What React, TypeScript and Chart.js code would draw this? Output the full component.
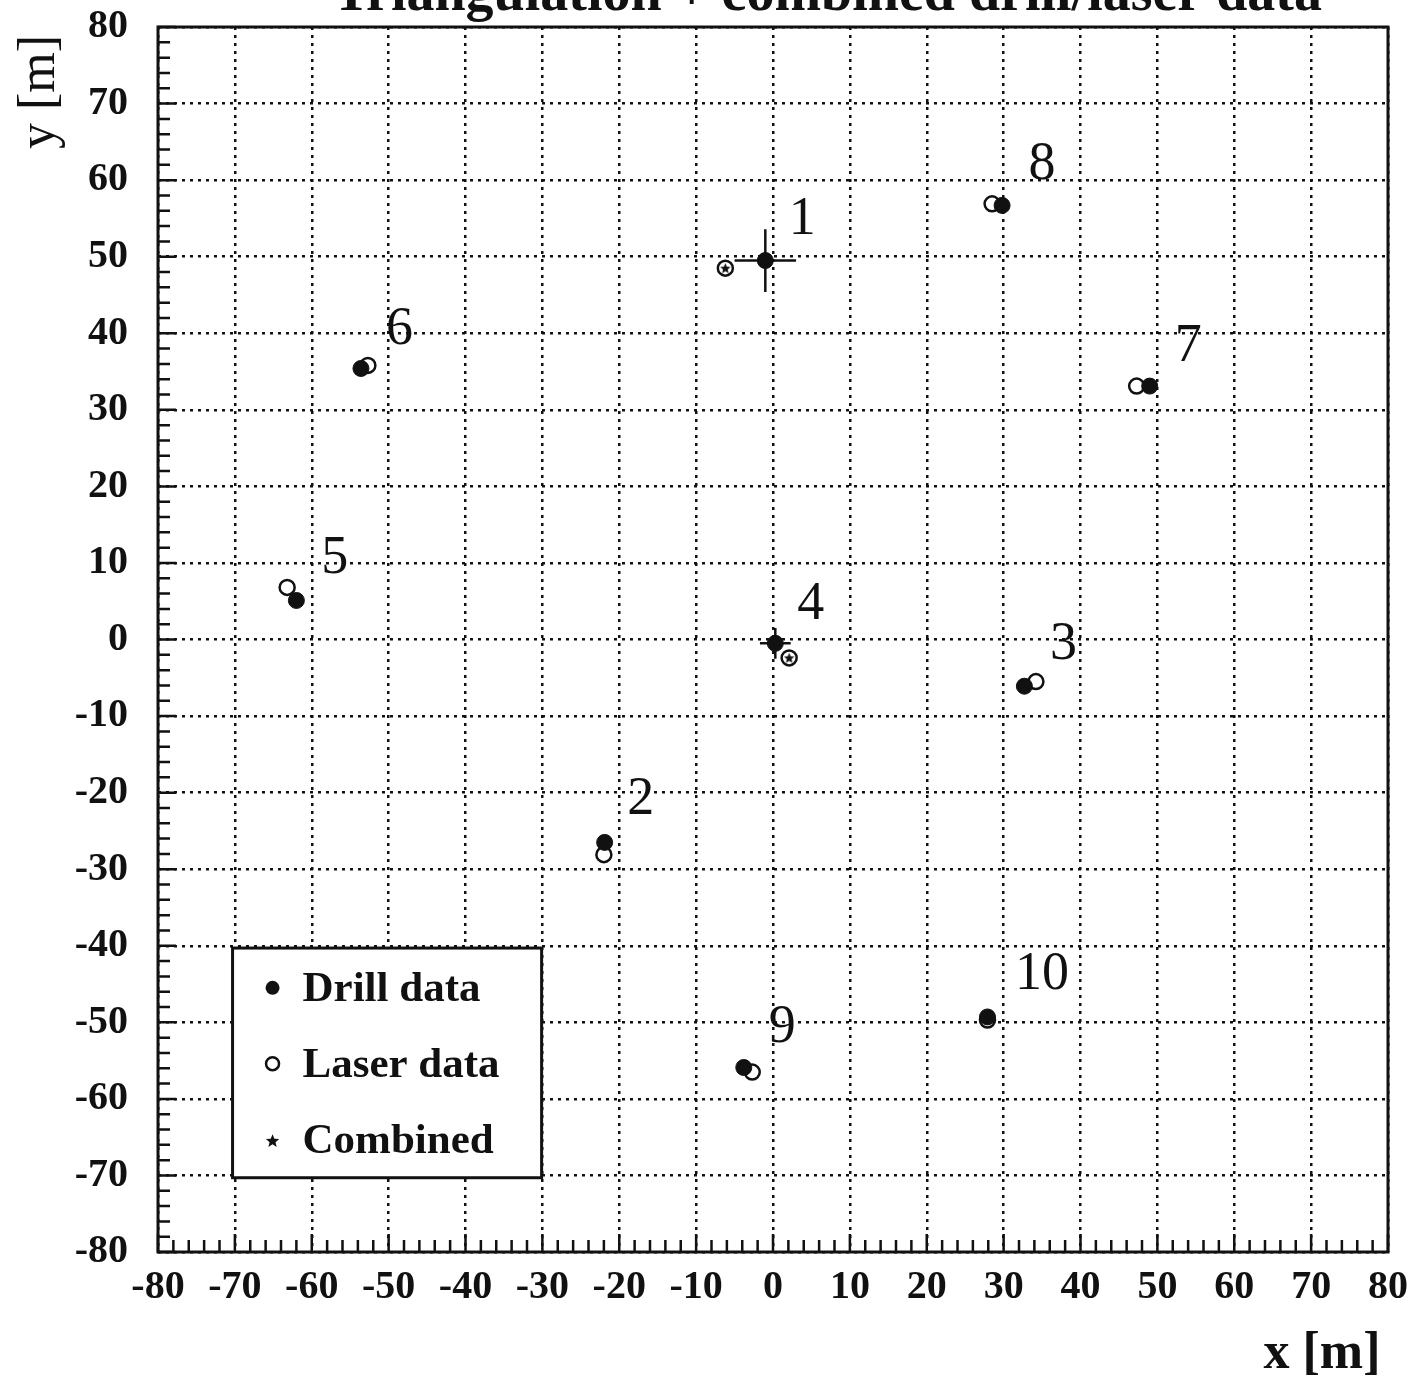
import React, { useEffect, useRef } from "react";
import { Chart, registerables } from "chart.js";

Chart.register(...registerables);

// ---- data ----
const pointNames = ["1", "2", "3", "4", "5", "6", "7", "8", "9", "10"];
const drillX = [-1.0, -21.9, 32.7, 0.3, -62.0, -53.6, 49.0, 29.8, -3.8, 27.9];
const drillY = [49.5, -26.5, -6.1, -0.5, 5.1, 35.4, 33.1, 56.7, -55.9, -49.3];
const drillErrX = [4.0, 0, 0, 2.0, 0, 0, 0, 0, 0, 0];
const drillErrY = [4.1, 0, 0, 2.0, 0, 0, 0, 0, 0, 0];
const laserX = [-6.2, -22.0, 34.2, 2.1, -63.2, -52.7, 47.3, 28.5, -2.7, 27.9];
const laserY = [48.5, -28.1, -5.5, -2.4, 6.8, 35.8, 33.1, 56.9, -56.5, -49.7];
const combinedX = [-6.2, 2.1];
const combinedY = [48.5, -2.4];
const labelX = [3.8, -17.2, 37.8, 4.9, -57.0, -48.6, 54.0, 35.0, 1.2, 35.0];
const labelY = [54.8, -21.0, -0.7, 4.5, 10.5, 40.5, 38.2, 62.0, -50.7, -43.8];
const axisMin = -80;
const axisMax = 80;
const majorStep = 10;
const minorStep = 2;
const legendLabels = ["Drill data", "Laser data", "Combined"];
const titleText = "Triangulation + combined drill/laser data";
const xTitle = "x [m]";
const yTitle = "y [m]";

const SERIF = "'Liberation Serif', 'DejaVu Serif', serif";

function starPath(ctx: CanvasRenderingContext2D, cx: number, cy: number, r: number) {
  ctx.beginPath();
  for (let i = 0; i < 10; i++) {
    const rr = i % 2 === 0 ? r : r * 0.45;
    const a = -Math.PI / 2 + (i * Math.PI) / 5;
    const x = cx + rr * Math.cos(a);
    const y = cy + rr * Math.sin(a);
    if (i === 0) ctx.moveTo(x, y);
    else ctx.lineTo(x, y);
  }
  ctx.closePath();
}

function makeStar(size: number) {
  const c = document.createElement("canvas");
  c.width = size;
  c.height = size;
  const g = c.getContext("2d")!;
  g.fillStyle = "#111";
  starPath(g, size / 2, size / 2 + 0.5, size / 2);
  g.fill();
  return c;
}

const overlayPlugin = {
  id: "overlay",
  beforeDatasetsDraw(chart: any) {
    const { ctx, chartArea } = chart;
    const xs = chart.scales.x;
    const ys = chart.scales.y;
    ctx.save();
    // frame
    ctx.strokeStyle = "#111";
    ctx.lineWidth = 3;
    ctx.strokeRect(chartArea.left, chartArea.top, chartArea.right - chartArea.left, chartArea.bottom - chartArea.top);
    // minor ticks (inward) on bottom & left
    ctx.lineWidth = 2.5;
    ctx.beginPath();
    for (let v = axisMin; v <= axisMax + 1e-9; v += minorStep) {
      const major = Math.abs(v % majorStep) < 1e-9;
      const len = major ? 18 : 12;
      const px = xs.getPixelForValue(v);
      ctx.moveTo(px, chartArea.bottom);
      ctx.lineTo(px, chartArea.bottom - len);
      const py = ys.getPixelForValue(v);
      ctx.moveTo(chartArea.left, py);
      ctx.lineTo(chartArea.left + len, py);
    }
    ctx.stroke();

    // error bars
    ctx.lineWidth = 2.5;
    ctx.beginPath();
    for (let i = 0; i < drillX.length; i++) {
      const cx = xs.getPixelForValue(drillX[i]);
      const cy = ys.getPixelForValue(drillY[i]);
      if (drillErrX[i] > 0) {
        ctx.moveTo(xs.getPixelForValue(drillX[i] - drillErrX[i]), cy);
        ctx.lineTo(xs.getPixelForValue(drillX[i] + drillErrX[i]), cy);
      }
      if (drillErrY[i] > 0) {
        ctx.moveTo(cx, ys.getPixelForValue(drillY[i] - drillErrY[i]));
        ctx.lineTo(cx, ys.getPixelForValue(drillY[i] + drillErrY[i]));
      }
    }
    ctx.stroke();

    // legend box
    const lx0 = xs.getPixelForValue(-70.3);
    const lx1 = xs.getPixelForValue(-30.1);
    const ly0 = ys.getPixelForValue(-40.3);
    const ly1 = ys.getPixelForValue(-70.3);
    ctx.fillStyle = "#fff";
    ctx.fillRect(lx0, ly0, lx1 - lx0, ly1 - ly0);
    ctx.strokeStyle = "#111";
    ctx.lineWidth = 3;
    ctx.strokeRect(lx0, ly0, lx1 - lx0, ly1 - ly0);
    const rowY = [-45.5, -55.4, -65.4].map((v) => ys.getPixelForValue(v));
    const mx = xs.getPixelForValue(-65.1);
    const tx = xs.getPixelForValue(-61.2);
    ctx.fillStyle = "#111";
    ctx.beginPath();
    ctx.arc(mx, rowY[0], 7, 0, Math.PI * 2);
    ctx.fill();
    ctx.beginPath();
    ctx.lineWidth = 2.5;
    ctx.arc(mx, rowY[1], 6.5, 0, Math.PI * 2);
    ctx.stroke();
    starPath(ctx, mx, rowY[2] + 1, 7);
    ctx.fill();
    ctx.font = `bold 43px ${SERIF}`;
    ctx.textAlign = "left";
    ctx.textBaseline = "middle";
    legendLabels.forEach((t, i) => ctx.fillText(t, tx, rowY[i] + 2));
    ctx.restore();
  },
  afterDraw(chart: any) {
    const { ctx } = chart;
    const xs = chart.scales.x;
    const ys = chart.scales.y;
    ctx.save();
    ctx.fillStyle = "#111";
    // point labels
    ctx.font = `54px ${SERIF}`;
    ctx.textAlign = "center";
    ctx.textBaseline = "middle";
    pointNames.forEach((n, i) => {
      ctx.fillText(n, xs.getPixelForValue(labelX[i]), ys.getPixelForValue(labelY[i]));
    });
    // title (cut off at top)
    ctx.font = `bold 56px ${SERIF}`;
    ctx.textAlign = "right";
    ctx.textBaseline = "alphabetic";
    ctx.fillText(titleText, 1322, 10);
    // axis titles
    ctx.font = `bold 52px ${SERIF}`;
    ctx.textAlign = "center";
    ctx.textBaseline = "middle";
    ctx.fillText(xTitle, 1322, 1355);
    ctx.font = `52px ${SERIF}`;
    ctx.translate(40, 92);
    ctx.rotate(-Math.PI / 2);
    ctx.fillText(yTitle, 0, 0);
    ctx.restore();
  },
};

export default function App() {
  const ref = useRef<HTMLCanvasElement | null>(null);
  useEffect(() => {
    document.body.style.margin = "0";
    const canvas = ref.current!;
    const star = makeStar(11);
    const chart = new Chart(canvas, {
      type: "scatter",
      data: {
        datasets: [
          {
            label: "Drill data",
            data: drillX.map((x, i) => ({ x, y: drillY[i] })),
            pointStyle: "circle",
            pointRadius: 8,
            backgroundColor: "#111",
            borderColor: "#111",
            borderWidth: 1,
          },
          {
            label: "Combined",
            data: combinedX.map((x, i) => ({ x, y: combinedY[i] })),
            pointStyle: star as any,
            pointRadius: 5,
          },
          {
            label: "Laser data",
            data: laserX.map((x, i) => ({ x, y: laserY[i] })),
            pointStyle: "circle",
            pointRadius: 7.5,
            backgroundColor: "#fff",
            borderColor: "#111",
            borderWidth: 2.5,
          },
        ],
      },
      options: {
        responsive: false,
        animation: false,
        events: [],
        layout: { padding: { left: 0, right: 33, top: 27, bottom: 0 } },
        plugins: { legend: { display: false }, tooltip: { enabled: false }, title: { display: false } },
        scales: {
          x: {
            type: "linear",
            min: axisMin,
            max: axisMax,
            afterFit: (s: any) => {
              s.height = 129;
              s.paddingLeft = 0;
              s.paddingRight = 0;
            },
            ticks: {
              stepSize: majorStep,
              autoSkip: false,
              maxRotation: 0,
              padding: 12,
              color: "#111",
              font: { family: SERIF, size: 40, weight: "bold" },
            },
            grid: { color: "#111", lineWidth: 2.5, drawTicks: false },
            border: { display: false, dash: [3, 5] },
          },
          y: {
            type: "linear",
            min: axisMin,
            max: axisMax,
            afterFit: (s: any) => {
              s.width = 158;
              s.paddingTop = 0;
              s.paddingBottom = 0;
            },
            ticks: {
              stepSize: majorStep,
              autoSkip: false,
              padding: 30,
              color: "#111",
              font: { family: SERIF, size: 40, weight: "bold" },
            },
            grid: { color: "#111", lineWidth: 2.5, drawTicks: false },
            border: { display: false, dash: [3, 5] },
          },
        },
      },
      plugins: [overlayPlugin],
    });
    return () => chart.destroy();
  }, []);
  return <canvas ref={ref} width={1421} height={1381} style={{ display: "block" }} />;
}
